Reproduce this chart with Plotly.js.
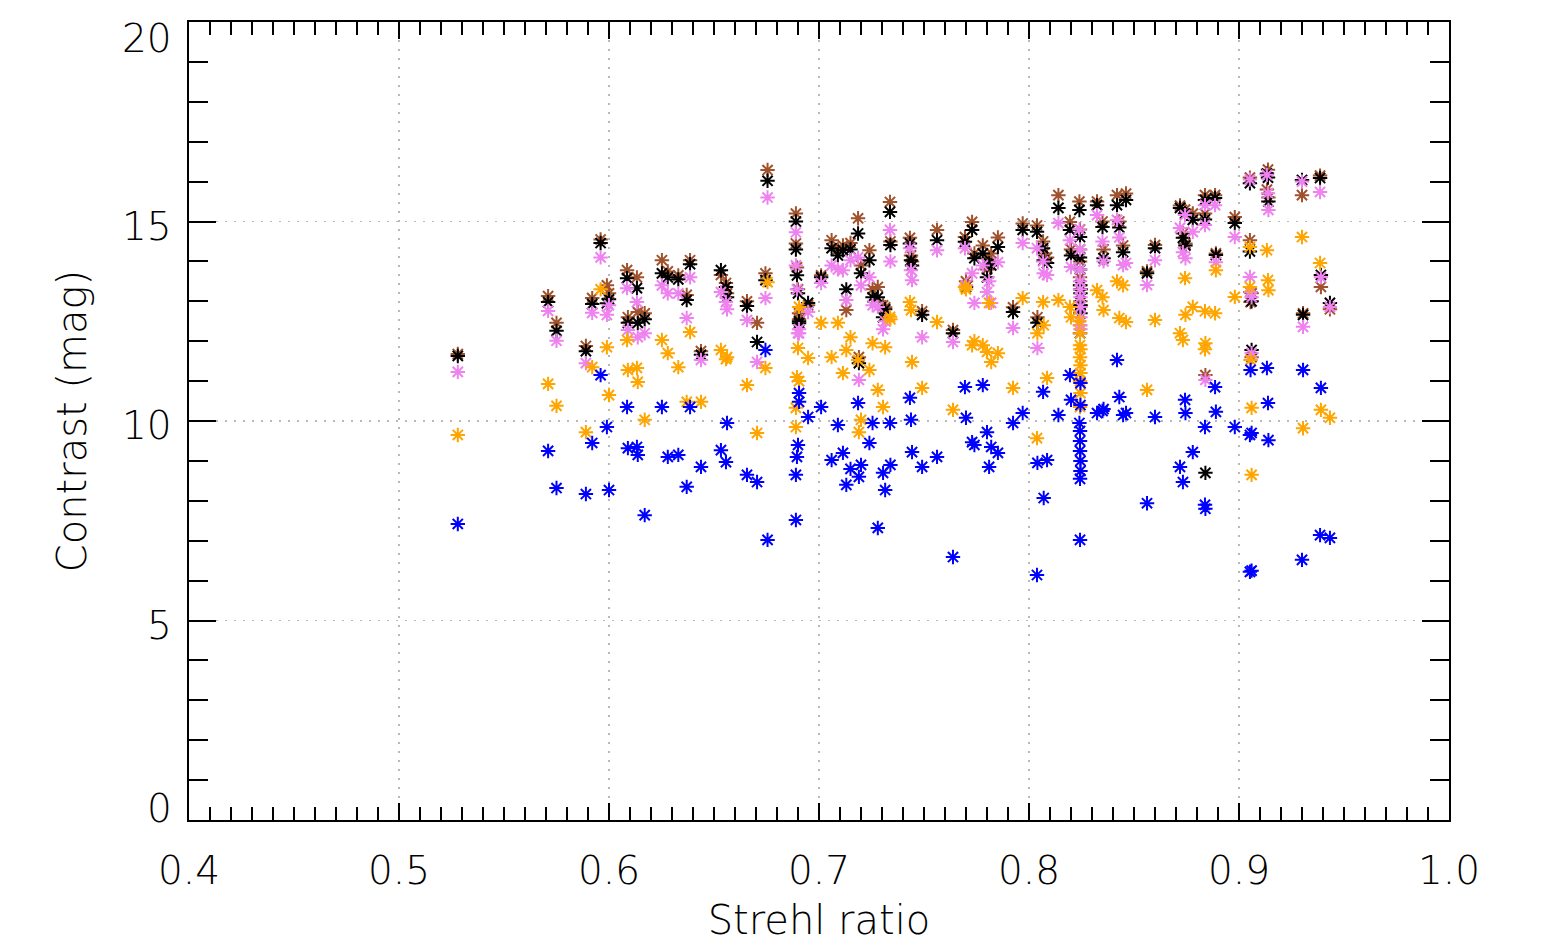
<!DOCTYPE html>
<html>
<head>
<meta charset="utf-8">
<script src="https://cdn.plot.ly/plotly-3.0.1.min.js"></script>
<style>
  html, body { margin: 0; padding: 0; background: #ffffff; }
  #chart { width: 1544px; height: 946px; }
</style>
</head>
<body>
<div id="chart"></div>
<script>
// Strehl ratio of each measurement (x)
const strehl = [
  0.528, 0.571, 0.575, 0.589, 0.592, 0.596, 0.599, 0.600, 0.6086, 0.609,
  0.6133, 0.6137, 0.617, 0.6252, 0.628, 0.633, 0.637, 0.6386, 0.6438, 0.6533,
  0.6557, 0.6562, 0.6657, 0.6705, 0.6745, 0.6755, 0.689, 0.689, 0.6895, 0.690,
  0.6905, 0.6905, 0.6948, 0.701, 0.706, 0.709, 0.7114, 0.713, 0.715, 0.7186,
  0.719, 0.720, 0.724, 0.7255, 0.728, 0.7305, 0.7315, 0.7338, 0.734, 0.7433,
  0.7438, 0.7443, 0.7491, 0.7562, 0.7638, 0.7695, 0.770, 0.7729, 0.774, 0.778,
  0.780, 0.781, 0.782, 0.7852, 0.7924, 0.797, 0.8038, 0.804, 0.8067, 0.807,
  0.8086, 0.814, 0.8195, 0.820, 0.8240, 0.8243, 0.8243, 0.8243, 0.8245, 0.8245,
  0.8243, 0.8245, 0.8243, 0.8245, 0.8324, 0.835, 0.8355, 0.8419, 0.843, 0.8448,
  0.8462, 0.8562, 0.860, 0.8719, 0.8733, 0.8743, 0.8745, 0.878, 0.8838, 0.8838,
  0.884, 0.8886, 0.889, 0.898, 0.9052, 0.9052, 0.9055, 0.906, 0.906, 0.9133,
  0.9138, 0.914, 0.930, 0.9305, 0.9386, 0.939, 0.9433
];

// Contrast (mag), one array per series
const contrastBlue = [
  7.42, 9.25, 8.32, 8.17, 9.45, 11.15, 9.85, 8.27, 10.35, 9.32,
  9.35, 9.15, 7.64, 10.35, 9.10, 9.15, 8.35, 10.35, 8.85, 9.27,
  8.97, 9.95, 8.65, 8.47, 11.78, 7.02, 7.52, 8.65, 9.10, 9.40,
  10.48, 10.70, 10.10, 10.35, 9.02, 9.90, 9.20, 8.40, 8.80, 10.45,
  8.60, 8.90, 9.45, 9.95, 7.32, 8.70, 8.27, 9.95, 8.90, 10.58,
  10.03, 9.22, 8.85, 9.10, 6.59, 10.85, 10.08, 9.47, 9.40, 10.90,
  9.72, 8.85, 9.35, 9.20, 9.95, 10.20, 6.14, 8.95, 10.73, 8.07,
  9.02, 10.15, 11.15, 10.53, 9.95, 9.75, 9.50, 9.25, 9.00, 8.75,
  8.55, 10.95, 7.02, 10.40, 10.20, 10.25, 10.30, 11.53, 10.60, 10.15,
  10.20, 7.94, 10.10, 8.85, 8.47, 10.53, 10.20, 9.22, 9.85, 7.90,
  7.80, 10.85, 10.23, 9.85, 6.22, 9.65, 11.28, 6.25, 9.70, 11.33,
  10.45, 9.52, 6.52, 11.28, 7.14, 10.83, 7.07
];
const contrastOrange = [
  9.65, 10.93, 10.38, 9.72, 11.35, 13.30, 11.85, 10.65, 12.03, 11.28,
  11.33, 10.98, 10.03, 12.03, 11.70, 11.35, 10.48, 12.23, 10.48, 11.78,
  11.55, 11.60, 10.90, 9.70, 11.33, 13.48, 9.85, 10.33, 11.10, 11.83,
  12.86, 11.00, 11.58, 12.46, 11.60, 12.46, 11.20, 11.78, 12.10, 11.53,
  9.72, 10.03, 11.28, 11.95, 10.78, 10.35, 11.85, 12.61, 12.55, 12.98,
  12.78, 11.48, 10.83, 12.48, 10.28, 13.36, 13.30, 11.90, 12.00, 11.90,
  11.73, 12.96, 11.48, 11.70, 10.83, 13.08, 9.57, 12.20, 12.98, 12.40,
  11.08, 13.03, 12.86, 12.60, 12.50, 12.20, 11.90, 11.60, 11.40, 11.20,
  11.00, 10.70, 10.35, 11.80, 13.28, 13.10, 12.78, 13.50, 12.58, 13.40,
  12.48, 10.78, 12.53, 12.20, 12.03, 13.58, 12.66, 12.86, 12.75, 11.80,
  11.95, 12.70, 13.78, 13.11, 14.36, 13.36, 11.53, 10.33, 8.65, 14.28,
  13.53, 13.28, 14.61, 9.82, 13.96, 10.28, 10.08
];
const contrastViolet = [
  11.23, 12.76, 12.01, 11.45, 12.71, 14.10, 12.66, 12.90, 13.33, 12.28,
  12.98, 12.10, 12.20, 13.40, 13.20, 13.20, 12.58, 13.60, 11.53, 13.23,
  12.98, 12.80, 12.53, 11.48, 13.08, 15.60, 14.73, 13.90, 13.30, 12.20,
  12.30, 12.20, 12.73, 13.46, 13.90, 13.80, 13.78, 13.03, 14.03, 14.10,
  11.03, 13.40, 13.60, 12.90, 12.86, 12.30, 12.50, 14.79, 14.00, 14.33,
  13.78, 13.53, 12.10, 14.28, 11.98, 14.33, 13.40, 13.70, 12.96, 13.90,
  13.23, 13.50, 12.96, 13.98, 12.33, 14.46, 14.33, 11.83, 14.00, 13.70,
  13.66, 14.96, 14.53, 13.86, 14.80, 14.30, 13.80, 13.50, 12.86, 12.60,
  12.40, 13.10, 13.30, 12.30, 15.16, 14.50, 14.00, 15.04, 14.60, 13.91,
  13.96, 13.41, 14.03, 14.84, 14.23, 15.16, 14.08, 14.74, 15.41, 14.91,
  11.03, 15.41, 13.98, 14.61, 16.05, 13.61, 13.23, 11.70, 13.10, 16.17,
  15.71, 15.29, 16.00, 12.36, 15.74, 13.60, 12.86
];
const contrastBrown = [
  11.68, 13.13, 12.46, 11.88, 13.08, 14.55, 13.40, 13.20, 13.78, 12.60,
  13.60, 12.73, 12.70, 14.03, 13.75, 13.65, 13.16, 14.03, 11.75, 13.66,
  13.46, 13.20, 13.00, 12.46, 13.70, 16.29, 15.20, 14.45, 13.85, 13.30,
  12.70, 12.55, 12.90, 13.65, 14.53, 14.30, 14.40, 12.78, 14.46, 15.08,
  11.60, 13.90, 14.28, 13.30, 13.36, 12.90, 12.85, 15.49, 14.50, 14.59,
  14.15, 14.00, 12.75, 14.79, 12.28, 14.61, 13.50, 14.99, 14.20, 14.40,
  13.80, 14.10, 14.20, 14.60, 12.85, 14.95, 14.90, 12.60, 14.50, 14.20,
  14.10, 15.66, 14.99, 14.30, 15.50, 14.80, 14.30, 13.60, 13.30, 12.90,
  12.40, 13.40, 14.00, 13.00, 15.50, 15.00, 14.30, 15.66, 15.00, 14.40,
  15.70, 13.75, 14.41, 15.40, 14.70, 15.30, 14.45, 15.20, 15.66, 15.20,
  11.15, 15.66, 14.20, 15.11, 16.10, 14.53, 12.98, 11.60, 13.20, 15.80,
  16.30, 15.60, 15.66, 12.70, 16.15, 13.36, 12.80
];
const contrastBlack = [
  11.63, 12.98, 12.26, 11.75, 12.93, 14.46, 12.95, 13.05, 13.58, 12.46,
  13.33, 12.46, 12.55, 13.70, 13.60, 13.55, 13.03, 13.93, 11.66, 13.78,
  13.36, 13.10, 12.88, 11.98, 13.53, 16.02, 15.00, 14.30, 13.65, 13.20,
  12.50, 12.45, 12.96, 13.60, 14.33, 14.15, 14.28, 13.30, 14.30, 14.70,
  11.45, 13.70, 14.03, 13.10, 13.10, 12.60, 12.80, 15.24, 14.41, 14.45,
  14.03, 13.90, 12.66, 14.53, 12.20, 14.49, 13.36, 14.79, 14.08, 14.20,
  13.60, 13.95, 13.90, 14.36, 12.73, 14.79, 14.74, 12.46, 14.33, 14.03,
  13.96, 15.34, 14.79, 14.15, 15.29, 14.61, 14.10, 13.40, 13.20, 12.70,
  12.20, 13.30, 13.80, 12.90, 15.41, 14.86, 14.08, 15.41, 14.85, 14.23,
  15.54, 13.70, 14.33, 15.34, 14.59, 15.20, 14.40, 15.04, 15.54, 15.05,
  8.70, 15.59, 14.16, 14.96, 15.96, 14.25, 13.23, 11.78, 13.00, 16.20,
  16.10, 15.50, 16.04, 12.66, 16.09, 13.66, 12.96
];

const xTickVals = [0.4, 0.5, 0.6, 0.7, 0.8, 0.9, 1.0];
const xTickText = ["0.4", "0.5", "0.6", "0.7", "0.8", "0.9", "1.0"];
const yTickVals = [0, 5, 10, 15, 20];
const yTickText = ["0", "5", "10", "15", "20"];

// drawing order: brown, black, violet, orange, blue (last on top)
const seriesList = [
  { name: "brown",  y: contrastBrown,  color: "#A0522D" },
  { name: "black",  y: contrastBlack,  color: "#000000" },
  { name: "violet", y: contrastViolet, color: "#EE82EE" },
  { name: "orange", y: contrastOrange, color: "#FFA500" },
  { name: "blue",   y: contrastBlue,   color: "#0000FF" }
];

const traces = seriesList.map(s => ({
  type: "scatter",
  mode: "markers",
  name: s.name,
  x: strehl,
  y: s.y,
  marker: {
    symbol: "asterisk-open",
    size: 12,
    color: s.color,
    line: { color: s.color, width: 2 }
  },
  hoverinfo: "x+y"
}));

const fontFam = "DejaVu Sans, Liberation Sans, sans-serif";
const tickFont = { family: fontFam, size: 39, color: "#000000", weight: 200 };
const titleFont = { family: fontFam, size: 40, color: "#000000", weight: 200 };

// y tick labels as annotations (IDL keeps the end labels inside the axis span)
const yLabelShift = [12, -5, -4, -5, -16];
const yLabels = yTickVals.map((v, i) => ({
  xref: "paper", yref: "y",
  x: 0, y: v,
  xanchor: "right", yanchor: "middle",
  xshift: -15, yshift: yLabelShift[i],
  text: yTickText[i],
  showarrow: false,
  font: tickFont
}));

const layout = {
  width: 1544,
  height: 946,
  paper_bgcolor: "#ffffff",
  plot_bgcolor: "#ffffff",
  showlegend: false,
  margin: { l: 189, r: 95, t: 22, b: 126, pad: 0 },
  font: { family: fontFam, size: 39, color: "#000000", weight: 200 },
  annotations: yLabels,
  xaxis: {
    range: [0.4, 1.0],
    tickmode: "array",
    tickvals: xTickVals,
    ticktext: xTickText,
    ticks: "inside",
    ticklen: 17,
    tickwidth: 2,
    tickcolor: "#000000",
    ticklabelstandoff: 15,
    minor: { dtick: 0.01, ticks: "inside", ticklen: 13, tickwidth: 2, tickcolor: "#000000", showgrid: false },
    showline: true,
    linecolor: "#000000",
    linewidth: 2,
    mirror: "allticks",
    showgrid: true,
    gridcolor: "#b8b8b8",
    gridwidth: 1.5,
    griddash: "2px,7px",
    zeroline: false,
    automargin: false,
    tickfont: tickFont,
    title: { text: "Strehl ratio", standoff: 14, font: titleFont }
  },
  yaxis: {
    range: [0, 20],
    tickmode: "array",
    tickvals: yTickVals,
    ticktext: yTickText,
    showticklabels: false,
    ticks: "inside",
    ticklen: 27,
    tickwidth: 2,
    tickcolor: "#000000",
    minor: { dtick: 1, ticks: "inside", ticklen: 19, tickwidth: 2, tickcolor: "#000000", showgrid: false },
    showline: true,
    linecolor: "#000000",
    linewidth: 2,
    mirror: "allticks",
    showgrid: true,
    gridcolor: "#b8b8b8",
    gridwidth: 1.5,
    griddash: "2px,7px",
    zeroline: false,
    automargin: false,
    title: { text: "Contrast (mag)", standoff: 88, font: titleFont }
  }
};

Plotly.newPlot("chart", traces, layout, { displayModeBar: false, staticPlot: true });
</script>
</body>
</html>
